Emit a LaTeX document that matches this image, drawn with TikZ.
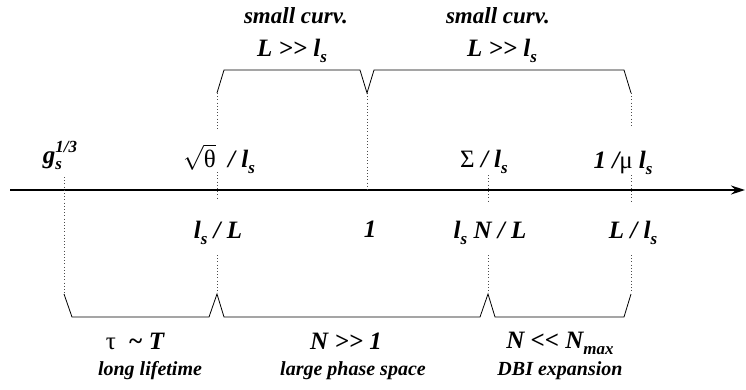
\documentclass[tikz,border=0pt]{standalone}
\usepackage{fontspec}
\setmainfont{Liberation Serif}
\usetikzlibrary{arrows.meta}

\newcommand\lblfont{\fontsize{25}{28}\selectfont\bfseries\itshape}
\newcommand\capfont{\fontsize{20}{22}\selectfont\bfseries\itshape}
\newcommand\topcapfont{\fontsize{23}{25}\selectfont\bfseries\itshape}
\newcommand\subs[1]{\raisebox{-0.26em}{\fontsize{17}{17}\selectfont #1}}
\newcommand\sups[1]{\raisebox{0.42em}{\fontsize{17}{17}\selectfont #1}}
\newcommand\grk[1]{{\upshape\mdseries #1}}

\begin{document}
\begin{tikzpicture}[x=1pt,y=-1pt,
  lbl/.style={font=\lblfont, anchor=base, inner sep=0pt},
  captxt/.style={font=\capfont, anchor=base, inner sep=0pt},
  guide/.style={dash pattern=on 0.8pt off 2.4pt, line width=0.7pt, black!70},
  brace/.style={line width=0.8pt}]

\useasboundingbox (0,0) rectangle (746,389);

% Tick positions along the axis
\def\xA{64}
\def\xB{217}
\def\xC{367}
\def\xD{488}
\def\xE{631}

% Axis
\coordinate (axL) at (10,190);
\coordinate (axR) at (745,190);
\draw[line width=1.6pt, -{Stealth[length=14pt,width=9pt]}] (axL) -- (axR);

% Dotted guides
\draw[guide] (\xA,177) -- (\xA,293);
\draw[guide] (\xB,93) -- (\xB,130) (\xB,172) -- (\xB,200) (\xB,255) -- (\xB,293);
\draw[guide] (\xC,93) -- (\xC,190);
\draw[guide] (\xD,175) -- (\xD,203) (\xD,255) -- (\xD,293);
\draw[guide] (\xE,93) -- (\xE,128) (\xE,175) -- (\xE,202) (\xE,255) -- (\xE,293);

% Upper brackets
\draw[brace] (\xB,93) -- (224,70) -- (360,70) -- (\xC,93) -- (374,70) -- (624,70) -- (\xE,93);

% Lower brackets
\draw[brace] (\xA,294) -- (72,317) -- (209,317) -- (\xB,294) -- (224,317) -- (480,317)
  -- (\xD,294) -- (495,317) -- (624,317) -- (\xE,294);

% Labels above the axis
\node[lbl] (gs) at (60,163) {g\rlap{\subs{s}}\sups{1/3}};
\node[lbl] (sqth) at (219,167) {$\sqrt{\hbox{\grk{θ}}}$\ \ / l\subs{s}};
\node[lbl] (sig) at (484,167) {\grk{Σ} / l\subs{s}};
\node[lbl] (mu) at (623,168) {1 /\grk{μ} l\subs{s}};

% Labels below the axis
\node[lbl] (lsL) at (218,238) {l\subs{s} / L};
\node[lbl] (one) at (370,237) {1};
\node[lbl] (lsNL) at (490,238) {l\subs{s} N / L};
\node[lbl] (Lls) at (633,238) {L / l\subs{s}};

% Upper bracket texts
\node[captxt, font=\topcapfont] (curvA) at (296,23) {small curv.};
\node[lbl] (condA) at (292,56) {L >{}> l\subs{s}};
\node[captxt, font=\topcapfont] (curvB) at (498,23) {small curv.};
\node[lbl] (condB) at (502,56) {L >{}> l\subs{s}};

% Lower bracket texts
\node[lbl] (tau) at (135,349) {\grk{τ}\ \ \textasciitilde\ T};
\node[lbl] (Nbig) at (346,349) {N >{}> 1};
\node[lbl] (Nsmall) at (560,348) {N <{}< N\subs{max}};
\node[captxt] (life) at (150,375) {long lifetime};
\node[captxt] (phase) at (353,375) {large phase space};
\node[captxt] (dbi) at (560,375) {DBI expansion};

\end{tikzpicture}
\end{document}
